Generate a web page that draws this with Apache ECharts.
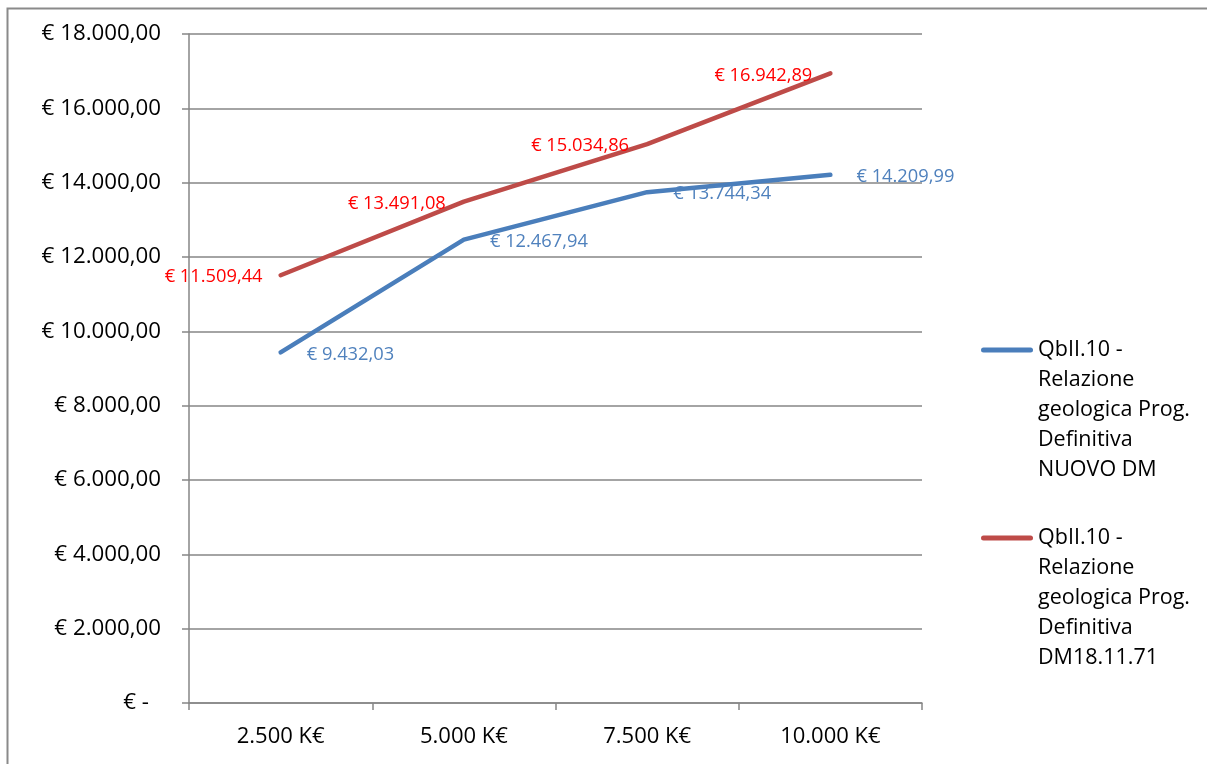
<!DOCTYPE html>
<html><head><meta charset="utf-8">
<script src="https://cdn.jsdelivr.net/npm/echarts@6/dist/echarts.min.js"></script>
<style>html,body{margin:0;padding:0;background:#fff}#c{width:1207px;height:764px}</style>
</head><body><div id="c"></div>
<script>
const categories = ['2.500 K€', '5.000 K€', '7.500 K€', '10.000 K€'];
const seriesNames = [
  'QbII.10 - Relazione geologica Prog. Definitiva NUOVO DM',
  'QbII.10 - Relazione geologica Prog. Definitiva DM18.11.71'
];
const legendLines = [
  'QbII.10 -\nRelazione\ngeologica Prog.\nDefinitiva\nNUOVO DM',
  'QbII.10 -\nRelazione\ngeologica Prog.\nDefinitiva\nDM18.11.71'
];
const nuovoDM = [9432.03, 12467.94, 13744.34, 14209.99];
const dm1971 = [11509.44, 13491.08, 15034.86, 16942.89];

function fmtIt(v) {
  const s = Number(v).toFixed(2);
  let [i, d] = s.split('.');
  i = i.replace(/\B(?=(\d{3})+(?!\d))/g, '.');
  return i + ',' + d;
}
const FONT = 'Open Sans';
const chart = echarts.init(document.getElementById('c'), null, {renderer: 'canvas'});
const legendIcon = 'path://M2.5,12.5 L49.5,12.5 A2.5,2.5 0 0 1 49.5,17.5 L2.5,17.5 A2.5,2.5 0 0 1 2.5,12.5 Z M0,0 M52,150';
chart.setOption({
  animation: false,
  textStyle: {fontFamily: FONT},
  graphic: [{
    type: 'rect', shape: {x: 7.5, y: 8.5, width: 1300, height: 900},
    style: {fill: 'none', stroke: '#8a8a8a', lineWidth: 2}, silent: true, z: -10
  }],
  grid: {left: 189, right: 285, top: 34, bottom: 61, containLabel: false},
  legend: {
    orient: 'vertical', left: 976, top: 330,
    itemWidth: 52, itemHeight: 150, itemGap: 38,
    icon: legendIcon,
    formatter: function (name) { return legendLines[seriesNames.indexOf(name)]; },
    textStyle: {fontFamily: FONT, fontSize: 21.5, color: '#000', lineHeight: 30},
    itemStyle: {borderWidth: 0}
  },
  xAxis: {
    type: 'category', data: categories, boundaryGap: true,
    axisLine: {show: true, lineStyle: {color: '#868686', width: 1.5}},
    axisTick: {show: true, length: 7, lineStyle: {color: '#868686', width: 1.5}},
    axisLabel: {color: '#000', fontFamily: FONT, fontSize: 22, margin: 23}
  },
  yAxis: {
    type: 'value', min: 0, max: 18000, interval: 2000,
    axisLine: {show: true, lineStyle: {color: '#868686', width: 1.5}},
    axisTick: {show: true, length: 7, lineStyle: {color: '#868686', width: 1.5}},
    splitLine: {show: true, lineStyle: {color: '#868686', width: 1.5}},
    axisLabel: {
      color: '#000', fontFamily: FONT, fontSize: 22.3, margin: 28,
      formatter: function (v) { return v === 0 ? '{z|€ -}' : '€ ' + fmtIt(v); },
      rich: {z: {fontFamily: FONT, fontSize: 22.3, color: '#000', padding: [0, 12, 0, 0]}}
    }
  },
  series: [
    {
      name: seriesNames[0], type: 'line', data: nuovoDM,
      symbol: 'circle', symbolSize: 0.1,
      itemStyle: {color: '#4A7EBB'},
      lineStyle: {color: '#4A7EBB', width: 4.5, cap: 'round', join: 'round'},
      label: {show: true, position: 'right', distance: 26, offset: [0, 2],
        color: '#4F81BD', fontFamily: FONT, fontSize: 18.3,
        formatter: function (p) { return '€ ' + fmtIt(p.value); }},
      z: 3
    },
    {
      name: seriesNames[1], type: 'line', data: dm1971,
      symbol: 'circle', symbolSize: 0.1,
      itemStyle: {color: '#BE4B48'},
      lineStyle: {color: '#BE4B48', width: 4.5, cap: 'round', join: 'round'},
      label: {show: true, position: 'left', distance: 18, offset: [0, 2],
        color: '#FF0000', fontFamily: FONT, fontSize: 18.3,
        formatter: function (p) { return '€ ' + fmtIt(p.value); }},
      z: 3
    }
  ]
});
</script></body></html>
